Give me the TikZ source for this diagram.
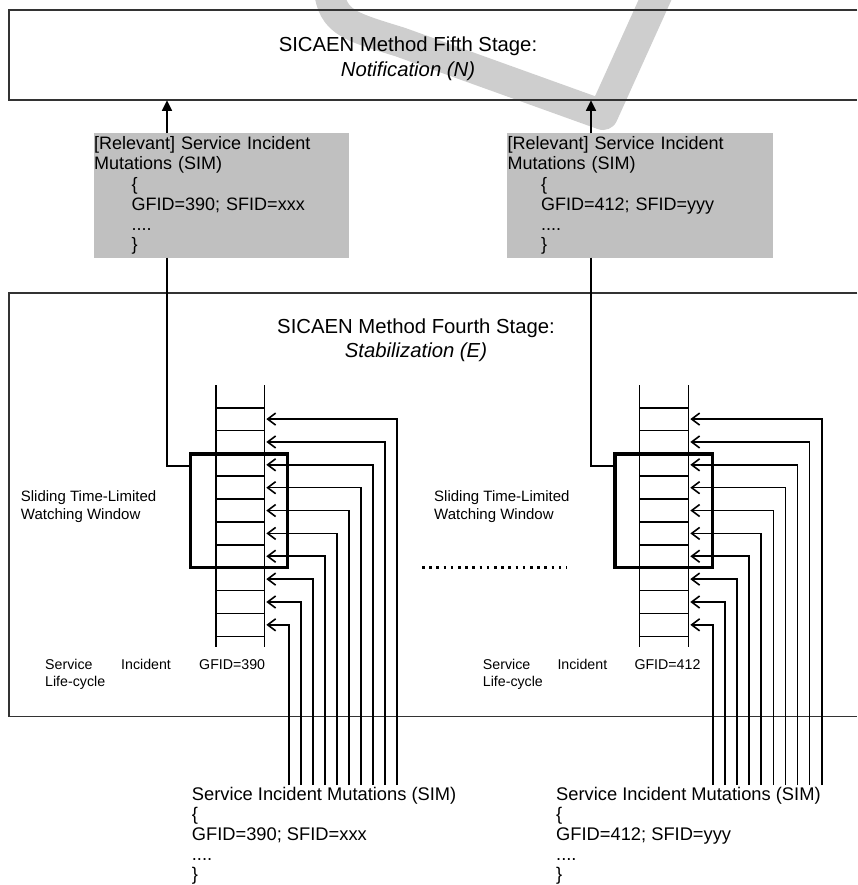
\documentclass[tikz,border=0pt]{standalone}
\usepackage{fontspec}
\setmainfont{Liberation Sans}
\usetikzlibrary{arrows.meta}
\definecolor{simgray}{RGB}{192,192,192}
\definecolor{wmgray}{RGB}{206,206,206}
\begin{document}
\begin{tikzpicture}[x=1pt,y=-1pt,
  boxline/.style={line width=1.8pt, draw=black!80},
  wline/.style={line width=1.6pt, draw=black},
  feed/.style={wline, -{Straight Barb[length=8pt,width=12pt]}},
  uparrow/.style={wline, -{Triangle[length=10.5pt,width=10pt]}},
  simbox/.style={fill=simgray, draw=none, inner xsep=0.7pt, inner ysep=0pt, align=left, minimum height=124pt, anchor=north west, font=\fontsize{18}{20.3}\selectfont},
  winbox/.style={draw=black, line width=3.3pt, inner sep=0pt},
  stagetitle/.style={align=center, inner sep=0pt, anchor=north, font=\fontsize{20.3}{24.5}\selectfont},
  bottxt/.style={align=left, inner sep=0pt, anchor=north west, font=\fontsize{18.3}{20}\selectfont},
  lblA/.style={align=left, inner sep=0pt, anchor=north west, font=\fontsize{15}{17.7}\selectfont},
  lblB/.style={align=left, inner sep=0pt, anchor=north west, font=\fontsize{14.2}{17.4}\selectfont},
  dotline/.style={line width=2.5pt, dash pattern=on 2.5pt off 4.7pt},
  stagebox/.style={draw=none, inner sep=0pt, anchor=north west}
]
\useasboundingbox (0,0) rectangle (857,885);

% watermark
\draw[wmgray, line width=30pt, line join=round] (328,-20) .. controls (330,22) and (345,25) .. (400,42) -- (603,115) -- (664,-20);

% stage boxes (open on the right)
\node[stagebox, minimum width=848pt, minimum height=90pt] (fifth) at (9,10) {};
\node[stagebox, minimum width=848pt, minimum height=423pt] (fourth) at (9,293) {};
\draw[boxline] (fifth.north east) -- (fifth.north west) -- (fifth.south west) -- (fifth.south east);
\draw[boxline] (fourth.north east) -- (fourth.north west) -- (fourth.south west) -- (fourth.south east);

\node[stagetitle] (fifthtitle) at (408,36.8) {SICAEN Method Fifth Stage:\\\textit{Notification (N)}};
\node[stagetitle] (fourthtitle) at (416,318.5) {SICAEN Method Fourth Stage:\\\textit{Stabilization (E)}};

% relevant SIM boxes
\node[simbox, text width=254.3pt] (sim1) at (93.3,133.3) {[Relevant] Service Incident\\Mutations (SIM)\\\hspace*{37.5pt}\{\\\hspace*{37.5pt}GFID=390; SFID=xxx\\\hspace*{37.5pt}....\\\hspace*{37.5pt}\}};
\node[simbox, text width=264.6pt] (sim2) at (506.7,133.3) {[Relevant] Service Incident\\Mutations (SIM)\\\hspace*{33.5pt}\{\\\hspace*{33.5pt}GFID=412; SFID=yyy\\\hspace*{33.5pt}....\\\hspace*{33.5pt}\}};

% watching windows
\node[winbox, minimum width=97pt, minimum height=113.7pt] (win1) at (239.2,510.85) {};
\node[winbox, minimum width=97.3pt, minimum height=113.7pt] (win2) at (663.65,510.85) {};

% connectors between stages
\coordinate (a1) at (167,0);
\coordinate (a2) at (591,0);
\coordinate (jy) at (0,465.7);
\draw[uparrow] (sim1.north -| a1) -- (fifth.south -| a1);
\draw[uparrow] (sim2.north -| a2) -- (fifth.south -| a2);
\draw[wline] (sim1.south -| a1) |- (win1.west |- jy);
\draw[wline] (sim2.south -| a2) |- (win2.west |- jy);

% ladders (service incident life-cycle)
\draw[wline] (215.7,385) -- (215.7,647) (264.3,385) -- (264.3,647);
\draw[wline] (639.3,385) -- (639.3,647) (688.3,385) -- (688.3,647);
\foreach \k in {0,...,10}{
  \draw[wline] (215.7,{407.7+22.86*\k}) -- (264.3,{407.7+22.86*\k});
  \draw[wline] (639.3,{407.7+22.86*\k}) -- (688.3,{407.7+22.86*\k});
}

% incoming mutations
\foreach \k in {0,...,9}{
  \coordinate (s1-\k) at ({396.7-12*\k},785);
  \coordinate (c1-\k) at (266.3,{419.1+22.86*\k});
  \draw[feed] (s1-\k) |- (c1-\k);
  \coordinate (s2-\k) at ({821.7-12.1*\k},785);
  \coordinate (c2-\k) at (690.3,{419.1+22.86*\k});
  \draw[feed] (s2-\k) |- (c2-\k);
}

% labels
\node[lblA] (sl1) at (20.7,490.7) {Sliding Time-Limited\\Watching Window};
\node[lblA] (sl2) at (434,490.7) {Sliding Time-Limited\\Watching Window};
\node[lblB] (svc1) at (45,658.9) {Service\\Life-cycle};
\node[lblB] (inc1) at (121,658.9) {Incident};
\node[lblB] (gf1) at (199,658.9) {GFID=390};
\node[lblB] (svc2) at (482.7,658.9) {Service\\Life-cycle};
\node[lblB] (inc2) at (557.3,658.9) {Incident};
\node[lblB] (gf2) at (634.3,658.9) {GFID=412};

% ellipsis between the two flows
\coordinate (dl) at (422,567.7);
\coordinate (dr) at (567,567.7);
\draw[dotline] (dl) -- (dr);

% incoming SIM texts
\node[bottxt] (bt1) at (191.7,786.6) {Service Incident Mutations (SIM)\\\{\\GFID=390; SFID=xxx\\....\\\}};
\node[bottxt] (bt2) at (556,786.6) {Service Incident Mutations (SIM)\\\{\\GFID=412; SFID=yyy\\....\\\}};
\end{tikzpicture}
\end{document}
